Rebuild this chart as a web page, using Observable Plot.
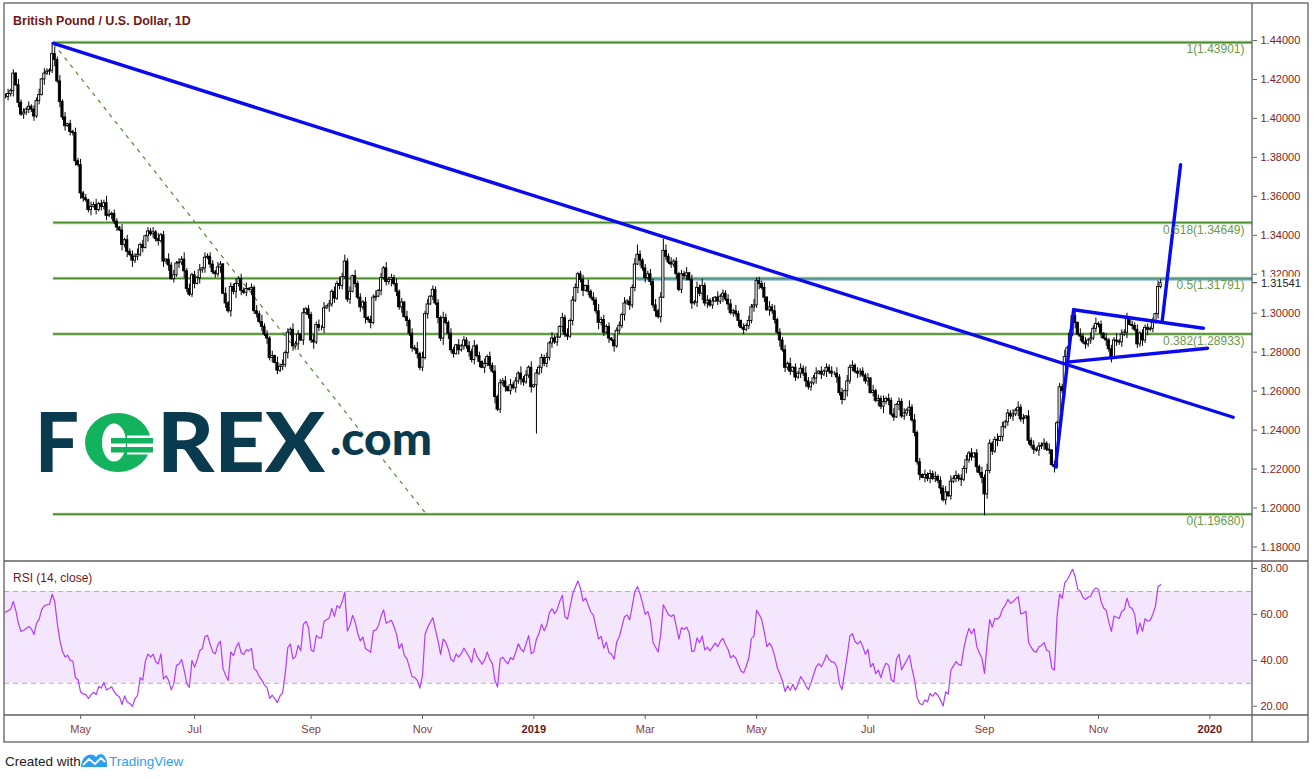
<!DOCTYPE html>
<html><head><meta charset="utf-8">
<script src="https://cdn.jsdelivr.net/npm/d3@7"></script>
<script src="https://cdn.jsdelivr.net/npm/@observablehq/plot@0.6"></script>
<style>
body{margin:0;background:#fff;}
#wrap{position:relative;width:1315px;height:779px;overflow:hidden;background:#fff;font-family:"Liberation Sans",Arial,sans-serif}
#main,#rsi,#over{position:absolute;left:0}
#main{top:0}#rsi{top:561px}#over{top:0;pointer-events:none}
g[aria-label="y-axis tick"],g[aria-label="x-axis tick"]{stroke:#666}
</style></head>
<body><div id="wrap"><div id="main"></div><div id="rsi"></div><svg id="over" width="1315" height="779"></svg></div>
<script>
// ---------------- DATA ----------------
const startDate = "2018-03-21";           // first daily bar
const closes = [
1.4110,1.4125,1.4140,1.4230,1.4170,1.4080,1.4020,1.4030,1.4045,1.4060,
1.4045,1.4010,1.4090,1.4120,1.4200,1.4230,1.4240,1.4245,1.4330,1.4300,
1.4190,1.4085,1.4005,1.3960,1.3970,1.3930,1.3925,1.3780,1.3760,1.3615,
1.3590,1.3580,1.3530,1.3545,1.3555,1.3530,1.3560,1.3545,1.3565,1.3500,
1.3505,1.3510,1.3470,1.3440,1.3425,1.3350,1.3375,1.3315,1.3300,1.3270,
1.3290,1.3300,1.3350,1.3335,1.3395,1.3420,1.3405,1.3415,1.3380,1.3370,
1.3400,1.3265,1.3275,1.3245,1.3175,1.3195,1.3255,1.3260,1.3275,1.3215,
1.3125,1.3095,1.3195,1.3150,1.3180,1.3220,1.3230,1.3285,1.3290,1.3250,
1.3210,1.3200,1.3235,1.3250,1.3100,1.3050,1.3010,1.3135,1.3110,1.3150,
1.3175,1.3115,1.3105,1.3125,1.3120,1.3130,1.3010,1.2995,1.2955,1.2930,
1.2890,1.2870,1.2770,1.2780,1.2745,1.2705,1.2725,1.2735,1.2795,1.2900,
1.2915,1.2830,1.2840,1.2890,1.2860,1.3000,1.3020,1.2990,1.2860,1.2850,
1.2940,1.2925,1.2925,1.3025,1.3035,1.3045,1.3110,1.3075,1.3150,1.3140,
1.3185,1.3265,1.3070,1.3110,1.3190,1.3150,1.3080,1.3030,1.3055,1.2975,
1.2965,1.2950,1.3080,1.3085,1.3115,1.3180,1.3230,1.3160,1.3170,1.3180,
1.3150,1.3110,1.3030,1.3055,1.2980,1.2960,1.2895,1.2820,1.2815,1.2790,
1.2720,1.2770,1.2995,1.3045,1.3085,1.3120,1.3050,1.2975,1.2870,1.2975,
1.2950,1.2895,1.2810,1.2790,1.2835,1.2810,1.2830,1.2860,1.2830,1.2800,
1.2760,1.2830,1.2780,1.2750,1.2720,1.2740,1.2775,1.2730,1.2700,1.2570,
1.2505,1.2640,1.2650,1.2620,1.2600,1.2630,1.2615,1.2650,1.2690,1.2660,
1.2645,1.2680,1.2720,1.2620,1.2630,1.2690,1.2720,1.2770,1.2740,1.2770,
1.2845,1.2870,1.2850,1.2875,1.2930,1.2975,1.2890,1.2880,1.2960,1.3065,
1.3130,1.3200,1.3170,1.3115,1.3140,1.3110,1.3080,1.3065,1.3010,1.2950,
1.2965,1.2900,1.2930,1.2870,1.2860,1.2830,1.2910,1.2935,1.2990,1.3050,
1.3060,1.3040,1.3130,1.3250,1.3300,1.3270,1.3230,1.3180,1.3200,1.3160,
1.3040,1.3010,1.2980,1.3080,1.3320,1.3290,1.3260,1.3250,1.3265,1.3200,
1.3120,1.3200,1.3190,1.3205,1.3170,1.3050,1.3055,1.3130,1.3100,1.3140,
1.3050,1.3065,1.3040,1.3060,1.3080,1.3060,1.3085,1.3100,1.3070,1.3045,
1.3000,1.3010,1.2995,1.2960,1.2925,1.2915,1.2935,1.2960,1.3030,1.3040,
1.3165,1.3150,1.3130,1.3080,1.3015,1.3030,1.3010,1.2965,1.2900,1.2860,
1.2810,1.2720,1.2740,1.2700,1.2720,1.2670,1.2690,1.2715,1.2690,1.2650,
1.2620,1.2640,1.2665,1.2690,1.2700,1.2685,1.2700,1.2720,1.2700,1.2690,
1.2690,1.2670,1.2590,1.2555,1.2600,1.2650,1.2720,1.2730,1.2700,1.2690,
1.2700,1.2680,1.2650,1.2665,1.2590,1.2600,1.2550,1.2560,1.2520,1.2545,
1.2560,1.2550,1.2480,1.2465,1.2530,1.2545,1.2470,1.2485,1.2500,1.2515,
1.2450,1.2385,1.2235,1.2170,1.2155,1.2170,1.2150,1.2175,1.2150,1.2160,
1.2140,1.2100,1.2040,1.2080,1.2060,1.2135,1.2150,1.2165,1.2150,1.2145,
1.2200,1.2245,1.2280,1.2260,1.2280,1.2210,1.2180,1.2155,1.2070,1.2190,
1.2330,1.2290,1.2350,1.2345,1.2365,1.2415,1.2440,1.2485,1.2470,1.2480,
1.2500,1.2515,1.2455,1.2460,1.2470,1.2345,1.2320,1.2300,1.2295,1.2315,
1.2320,1.2330,1.2300,1.2295,1.2220,1.2210,1.2435,1.2620,1.2600,1.2775,
1.2820,1.2895,1.2985,1.2950,1.2890,1.2880,1.2850,1.2840,1.2860,1.2870,
1.2920,1.2945,1.2940,1.2895,1.2870,1.2860,1.2815,1.2775,1.2860,1.2855,
1.2850,1.2890,1.2900,1.2970,1.2940,1.2935,1.2915,1.2840,1.2895,1.2860,
1.2925,1.2915,1.2920,1.2950,1.2995,1.3135,1.3154
];
// wick lengths per bar (digit x 0.0005)
const wickUp = "3524163425 2436153247 3625142536 2415362437 5243162534 3625143526 2416352437 3524261534 4253162435 2536142637 3425163524 2634152436 3526142537 4235163425 2436152634 3524162537 2635143426 4253162435 3624152536 2435163427 3526142435 2634153624 4235162537 3524163426 2536142435 3625163524 2436152637 3524162435 5263142536 2435163624 3526142537 4236152435 2635163524 3425162436 2536143527 3624152435 2436163524 3525142637 4236152435 2634163524 3526142437 2435163526 3624152437 2536143524 3425162635";
const wickDn = "2436152534 3524162437 2635143526 4236152435 2534163627 3425162435 2636142537 4235163524 2436152637 3524163425 2635142436 3526152437 2436163524 4235142536 3624152437 2536163425 3425142637 2634152435 3526163427 2435142536 4236152634 3524163425 2636142537 3425162436 2534163524 3626142435 2435162537 3524143626 2436152435 3625163427 2534142536 3426152634 2635163425 4235142637 3524162436 2436153524 3625142437 2534163625 3426152435 2635143526 3524162437 4236152534 2435163625 3526142436 3624152537";
// notable extremes (bar index from start)
const extremes = [
  {bar: 18, high: 1.4390}, {bar: 131, high: 1.3298}, {bar: 205, low: 1.2380},
  {bar: 244, high: 1.3350}, {bar: 254, high: 1.3380}, {bar: 290, high: 1.3182},
  {bar: 378, low: 1.1960}, {bar: 446, high: 1.3172}
];
const rsiFirstValue = 61;                  // RSI read at the first bar
const lastPrice = 1.31541;
const priceTicks = [1.18,1.20,1.22,1.24,1.26,1.28,1.30,1.32,1.34,1.36,1.38,1.40,1.42,1.44];
const rsiTicks = [20,40,60,80];
const rsiBand = [{lo: 30, hi: 70}];
const monthTickDates  = ["2018-05-01","2018-07-02","2018-09-03","2018-11-01","2019-03-01","2019-05-01","2019-07-01","2019-09-02","2019-11-01"];
const monthTickLabels = ["May","Jul","Sep","Nov","Mar","May","Jul","Sep","Nov"];
const yearTickDates   = ["2019-01-01","2020-01-01"];
const yearTickLabels  = ["2019","2020"];
const fibStartBar = 18.5;
const fibLevels = [
  {ratio: "1", price: 1.43901}, {ratio: "0.618", price: 1.34649}, {ratio: "0.5", price: 1.31791},
  {ratio: "0.382", price: 1.28933}, {ratio: "0", price: 1.19680}
];
const horizontalLine = [{fromBar: 244, price: 1.3173}];
const trendLines = [
  {b1: 18.5,  p1: 1.4385, b2: 474.0, p2: 1.2466},
  {b1: 405.4, p1: 1.2210, b2: 412.4, p2: 1.3018},
  {b1: 412.4, p1: 1.3018, b2: 462.5, p2: 1.2923},
  {b1: 409.9, p1: 1.2749, b2: 464.1, p2: 1.2820},
  {b1: 446.6, p1: 1.2959, b2: 453.7, p2: 1.3763}
];
const fibTrend = [{b1: 18.5, p1: 1.4385, b2: 162.5, p2: 1.1968}];

// ---------------- DERIVED ----------------
function barIndex(ds){
  const s = new Date(startDate+"T00:00:00Z"), d = new Date(ds+"T00:00:00Z");
  let n = 0;
  for (let t = new Date(s); t < d; t.setUTCDate(t.getUTCDate()+1)) { const w = t.getUTCDay(); if (w !== 0 && w !== 6) n++; }
  return n;
}
const up = wickUp.replace(/\s/g,""), dn = wickDn.replace(/\s/g,"");
const candles = closes.map((c, i) => {
  const o = i ? closes[i-1] : closes[0];
  let hi = Math.max(o, c) + (+up[i] || 3) * 0.0005;
  let lo = Math.min(o, c) - (+dn[i] || 3) * 0.0005;
  const e = extremes.find(e => e.bar === i);
  if (e) { if (e.high) hi = e.high; if (e.low) lo = e.low; }
  return {i, open: o, close: c, high: hi, low: lo, up: c >= o};
});
// RSI(14), Wilder smoothing, seeded from the first visible RSI value
const rsi = [{i: 0, v: rsiFirstValue}];
{ const rs0 = rsiFirstValue / (100 - rsiFirstValue);
  let al = 0.003, ag = al * rs0;
  for (let k = 1; k < closes.length; k++) {
    const ch = closes[k] - closes[k-1], g = Math.max(ch, 0), l = Math.max(-ch, 0);
    ag = (ag * 13 + g) / 14; al = (al * 13 + l) / 14;
    rsi.push({i: k, v: 100 - 100 / (1 + ag / al)});
  }
}
const monthTicks = monthTickDates.map(barIndex), yearTicks = yearTickDates.map(barIndex);
const monthLab = new Map(monthTicks.map((b, k) => [b, monthTickLabels[k]]));
const yearLab = new Map(yearTicks.map((b, k) => [b, yearTickLabels[k]]));

// ---------------- LAYOUT ----------------
const W = 1315, xDom = [-0.386, 481.47];
const xEnd = xDom[1];
const baseStyle = {fontFamily: "Liberation Sans, Arial, sans-serif", fontSize: "11px", color: "#7f2424", background: "transparent", overflow: "visible"};
const main = Plot.plot({
  width: W, height: 562, marginTop: 1, marginBottom: 1, marginLeft: 4, marginRight: 63,
  x: {domain: xDom, axis: null}, y: {domain: [1.17255, 1.46002], axis: null},
  style: baseStyle,
  marks: [
    Plot.ruleY(fibLevels, {y: "price", x1: fibStartBar, x2: xEnd, stroke: "#a9cf8f", strokeWidth: 3.2}),
    Plot.ruleY(fibLevels, {y: "price", x1: fibStartBar, x2: xEnd, stroke: "#4b8a2c", strokeWidth: 1.4}),
    Plot.ruleY(horizontalLine, {y: "price", x1: "fromBar", x2: xEnd, stroke: "#5d9be0", strokeWidth: 2}),
    Plot.link(fibTrend, {x1: "b1", y1: "p1", x2: "b2", y2: "p2", stroke: "#4f8a32", strokeWidth: 1.2, strokeDasharray: "4,5"}),
    Plot.ruleX(candles, {x: "i", y1: "low", y2: "high", stroke: "#000", strokeWidth: 1}),
    Plot.rect(candles, {x1: d => d.i - 0.42, x2: d => d.i + 0.42, y1: "open", y2: "close",
      fill: d => d.up ? "#fff" : "#000", stroke: "#000", strokeWidth: 0.9}),
    Plot.link(trendLines, {x1: "b1", y1: "p1", x2: "b2", y2: "p2", stroke: "#0a0af0", strokeWidth: 3.4, strokeLinecap: "round"}),
    Plot.text(fibLevels, {x: xEnd, y: "price", text: d => `${d.ratio}(${d.price.toFixed(5)})`, textAnchor: "end",
      dx: -8, dy: 7, fill: "#6a9a4a", fontSize: 12}),
    Plot.axisY(priceTicks, {anchor: "right", tickSize: 4, tickPadding: 4, tickFormat: d => d.toFixed(5), label: null})
  ]
});
document.getElementById("main").appendChild(main);

const rsiPlot = Plot.plot({
  width: W, height: 181, marginTop: 0, marginBottom: 27, marginLeft: 4, marginRight: 63,
  x: {domain: xDom, axis: null, label: null}, y: {domain: [15.95, 83.05], axis: null, label: null},
  style: baseStyle,
  marks: [
    Plot.rect(rsiBand, {y1: "lo", y2: "hi", fill: "#f4e6fd"}),
    Plot.ruleY([30, 70], {stroke: "#b8a9b8", strokeDasharray: "5,4"}),
    Plot.line(rsi, {x: "i", y: "v", stroke: "#b23cfd", strokeWidth: 1.2}),
    Plot.axisY(rsiTicks, {anchor: "right", tickSize: 4, tickPadding: 4, tickFormat: d => d.toFixed(2), label: null}),
    Plot.axisX(monthTicks, {anchor: "bottom", tickSize: 4, tickPadding: 6, tickFormat: d => monthLab.get(d), fill: "#8c3b3b", label: null}),
    Plot.axisX(yearTicks, {anchor: "bottom", tickSize: 4, tickPadding: 6, tickFormat: d => yearLab.get(d), fill: "#6a1515", fontWeight: "bold", label: null})
  ]
});
document.getElementById("rsi").appendChild(rsiPlot);

// ---------------- OVERLAY (frame, titles, logo) ----------------
const svg = d3.select("#over");
const yP = main.scale("y");
const ly = yP.apply(lastPrice);
svg.append("rect").attr("x", 1253).attr("y", ly - 6).attr("width", 54).attr("height", 13).attr("fill", "#fff");
svg.append("line").attr("x1", 1252).attr("x2", 1257).attr("y1", ly).attr("y2", ly).attr("stroke", "#333");
svg.append("text").attr("x", 1261).attr("y", ly + 4.5).text(lastPrice.toFixed(5))
  .attr("font-family", "Liberation Sans, Arial").attr("font-size", 11).attr("fill", "#222");
const fr = "#5f5f5f";
svg.append("rect").attr("x", 4).attr("y", 3).attr("width", 1304).attr("height", 739).attr("fill", "none").attr("stroke", fr).attr("stroke-width", 1.3);
[[1252, 3, 1252, 742], [4, 561, 1308, 561], [4, 715, 1308, 715]].forEach(([a, b, c, d]) =>
  svg.append("line").attr("x1", a).attr("y1", b).attr("x2", c).attr("y2", d).attr("stroke", fr).attr("stroke-width", 1.3));
svg.append("text").attr("x", 13).attr("y", 25).text("British Pound / U.S. Dollar, 1D")
  .attr("font-family", "Liberation Sans, Arial").attr("font-weight", "bold").attr("font-size", 12.5).attr("fill", "#701818");
svg.append("text").attr("x", 13).attr("y", 582).text("RSI (14, close)")
  .attr("font-family", "Liberation Sans, Arial").attr("font-size", 12).attr("fill", "#701818");
// FOREX.com logo
const navy = "#0a3a4e", grn = "#13b25c";
const lg = svg.append("g");
lg.append("text").attr("x", 35).attr("y", 472).attr("font-family", "Lato, 'Open Sans', sans-serif").attr("font-weight", 900)
  .attr("font-size", 81).attr("fill", navy).attr("textLength", 44).attr("lengthAdjust", "spacingAndGlyphs").text("F");
lg.append("ellipse").attr("cx", 118).attr("cy", 442.5).attr("rx", 33).attr("ry", 29.5).attr("fill", grn);
lg.append("ellipse").attr("cx", 114).attr("cy", 442.5).attr("rx", 12).attr("ry", 19).attr("fill", "#fff");
lg.append("rect").attr("x", 127).attr("y", 435.5).attr("width", 26).attr("height", 19).attr("fill", "#fff");
lg.append("rect").attr("x", 111).attr("y", 438).attr("width", 42).attr("height", 5.5).attr("fill", grn);
lg.append("rect").attr("x", 111).attr("y", 447).attr("width", 42).attr("height", 5.5).attr("fill", grn);
lg.append("text").attr("x", 157).attr("y", 472).attr("font-family", "Lato, 'Open Sans', sans-serif").attr("font-weight", 900)
  .attr("font-size", 81).attr("fill", navy).attr("textLength", 168).attr("lengthAdjust", "spacingAndGlyphs").text("REX");
lg.append("text").attr("x", 330).attr("y", 455).attr("font-family", "Lato, 'Open Sans', sans-serif").attr("font-weight", 900)
  .attr("font-size", 46).attr("fill", navy).attr("textLength", 102).attr("lengthAdjust", "spacingAndGlyphs").text(".com");
// footer
svg.append("text").attr("x", 5).attr("y", 766).text("Created with").attr("font-family", "Liberation Sans, Arial").attr("font-size", 13.5).attr("fill", "#222");
svg.append("path").attr("d", "M81,767 C81,757 90,751 96,757 C101,750 108,756 107,767 Z").attr("fill", "#2e9ef4");
svg.append("path").attr("d", "M83,765 L89,759 L95,764 L101,758 L105,762").attr("fill", "none").attr("stroke", "#fff").attr("stroke-width", 1.8);
svg.append("text").attr("x", 109).attr("y", 766).text("TradingView").attr("font-family", "Liberation Sans, Arial").attr("font-size", 13.5).attr("fill", "#2e9ef4");
</script></body></html>
